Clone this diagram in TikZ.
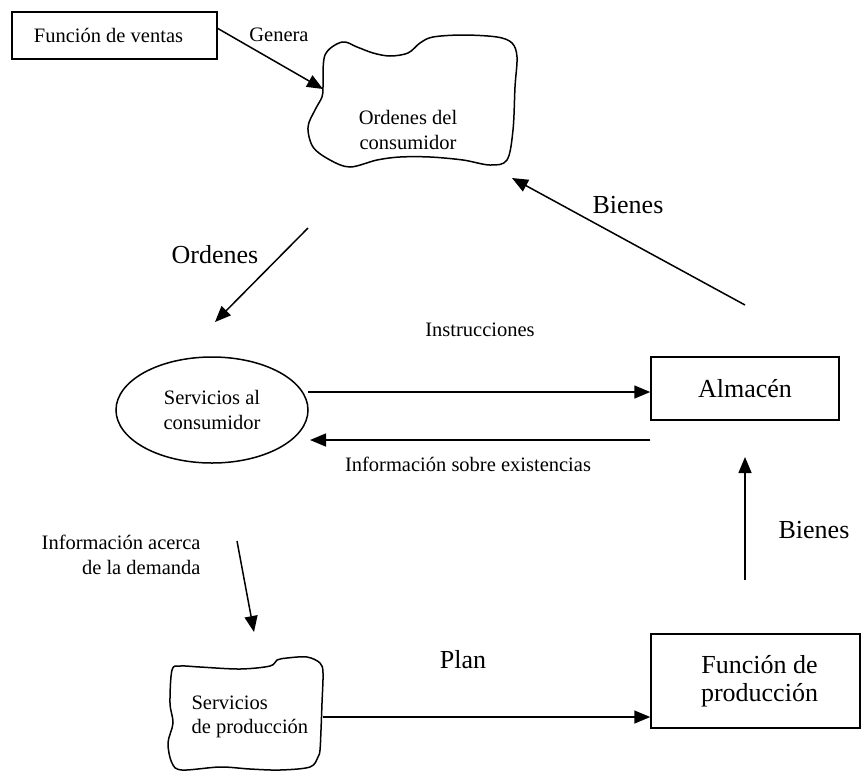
\documentclass[tikz,border=0pt]{standalone}
\usepackage{fontspec}
\setmainfont{Liberation Serif}
\usetikzlibrary{arrows.meta, shapes.geometric, positioning, calc}

\begin{document}
\begin{tikzpicture}[
    x=1pt, y=-1pt,
    smalltext/.style={font=\fontsize{20.5}{24.5}\selectfont, align=center},
    bigtext/.style={font=\fontsize{26}{28.5}\selectfont, align=center},
    block/.style={rectangle, draw, line width=1.5pt, inner sep=0pt, align=center},
    oval/.style={ellipse, draw, line width=1.5pt, inner sep=0pt, align=center},
    cloudline/.style={line width=1.5pt},
    arrow/.style={-{Triangle[length=16pt,width=13pt]}, line width=1.5pt}
]
    \useasboundingbox (0,0) rectangle (861,772);

    % Components
    \node [block, smalltext, minimum width=205pt, minimum height=47pt] (ventas) at (114.5,35.5) {Funci\'on de ventas\hspace{12pt}};
    \node [block, bigtext, minimum width=188pt, minimum height=63pt] (almacen) at (745,388.5) {Almac\'en};
    \node [block, bigtext, minimum width=209pt, minimum height=94pt] (produccion) at (755.5,681) {\hspace{8pt}Funci\'on de\\\hspace{8pt}producci\'on};
    \node [oval, smalltext, minimum width=192pt, minimum height=106pt] (servcons) at (212,410) {Servicios al\\consumidor};

    % Clouds
    \draw [cloudline] plot [smooth cycle, tension=0.55] coordinates {
        (325,55) (342,42) (357,47) (373,53) (390,56) (408,53) (420,43) (433,37)
        (463,35) (497,37) (512,43) (517,57) (515,87) (513,130) (507,160) (490,165)
        (463,160) (430,157) (400,157) (377,160) (350,167) (330,160) (313,147)
        (308,127) (315,110) (322,97) (323,87)};
    \node [smalltext] (ordcons) at (408,130) {Ordenes del\\consumidor};

    \draw [cloudline] plot [smooth cycle, tension=0.55] coordinates {
        (172,670) (180,666) (200,667) (240,669) (270,666) (277,660) (287,658)
        (307,657) (320,663) (323,673) (322,703) (321,730) (320,750) (318,757)
        (310,767) (280,770) (250,769) (220,767) (182,770) (172,763) (168,743)
        (173,723) (170,703)};
    \node [smalltext, align=left, anchor=west] (servprod) at (188,717) {Servicios\\de producci\'on};

    % Free ends
    \coordinate (genA) at (217,28);
    \coordinate (genB) at (323,89);
    \coordinate (ordA) at (308,228);
    \coordinate (ordB) at (215,322);
    \coordinate (bienA) at (745,305);
    \coordinate (bienB) at (512,178);
    \coordinate (instrA) at (308,392);
    \coordinate (existB) at (310,440);
    \coordinate (almA) at (745,580);
    \coordinate (almB) at (745,457);
    \coordinate (demA) at (237,541);
    \coordinate (demB) at (254,632);
    \coordinate (planA) at (323,717);

    % Labels
    \node [smalltext] (genera) at (279,35) {Genera};
    \node [bigtext] (ordenes) at (215,255) {Ordenes};
    \node [bigtext] (bienes1) at (628,205) {Bienes};
    \node [smalltext] (instr) at (480,330) {Instrucciones};
    \node [smalltext] (exist) at (468,464) {Informaci\'on sobre existencias};
    \node [bigtext] (bienes2) at (814,530) {Bienes};
    \node [smalltext, align=right, anchor=east] (demanda) at (204,555) {Informaci\'on acerca\\de la demanda};
    \node [bigtext] (plan) at (463,660) {Plan};

    % Connections
    \draw [arrow] (genA) -- (genB);
    \draw [arrow] (ordA) -- (ordB);
    \draw [arrow] (bienA) -- (bienB);
    \draw [arrow] (instrA) -- (instrA -| almacen.west);
    \draw [arrow] (existB -| almacen.west) -- (existB);
    \draw [arrow] (almA) -- (almB);
    \draw [arrow] (demA) -- (demB);
    \draw [arrow] (planA) -- (planA -| produccion.west);
\end{tikzpicture}
\end{document}
